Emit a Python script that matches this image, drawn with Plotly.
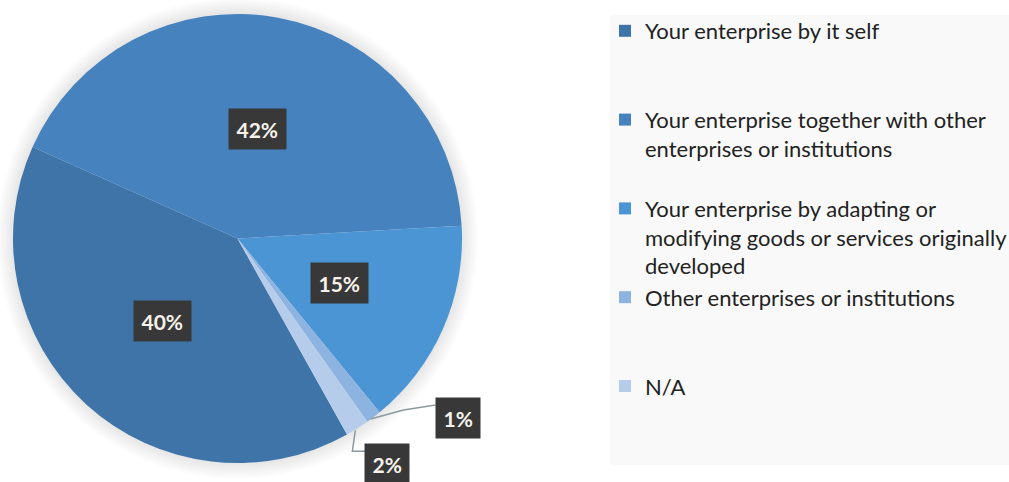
import math
import plotly.graph_objects as go

# ---- data ----
categories = [
    "Your enterprise by it self",
    "Your enterprise together with other enterprises or institutions",
    "Your enterprise by adapting or modifying goods or services originally developed",
    "Other enterprises or institutions",
    "N/A",
]
legend_labels = [
    "Your enterprise by it self<br> <br> ",
    "Your enterprise together with other<br>enterprises or institutions<br> ",
    "Your enterprise by adapting or<br>modifying goods or services originally<br>developed",
    "Other enterprises or institutions<br> <br> ",
    "N/A<br> <br> ",
]
values = [39.8, 42.4, 15.0, 1.1, 1.7]
colors = ["#3E74A8", "#4682BE", "#4C95D5", "#8DB3E0", "#B5CDEB"]

# ---- layout constants (pixels) ----
W, H = 1009, 482
CX, CY, R = 237.5, 238.5, 224.5
ROTATION = 150.8  # degrees clockwise from 12 o'clock


def px(x):
    return x / W


def py(y):
    return 1 - y / H


fig = go.Figure()
fig.add_trace(go.Pie(
    labels=legend_labels,
    values=values,
    sort=False,
    direction="clockwise",
    rotation=ROTATION,
    marker=dict(colors=colors, line=dict(width=0)),
    textinfo="none",
    hoverinfo="label+percent",
    domain=dict(x=[px(CX - R), px(CX + R)], y=[py(CY + R), py(CY - R)]),
))

shapes = []
# legend panel background
shapes.append(dict(type="rect", xref="paper", yref="paper", layer="below",
                   x0=px(610), x1=1.0, y0=py(465), y1=py(15),
                   fillcolor="#F9F9F9", line=dict(width=0)))
# soft shadow around pie
for k in range(16, 0, -2):
    shapes.append(dict(type="circle", xref="paper", yref="paper", layer="below",
                       x0=px(CX - R - k), x1=px(CX + R + k),
                       y0=py(CY + R + k), y1=py(CY - R - k),
                       fillcolor="rgba(0,0,0,0.011)", line=dict(width=0)))

# labels
total = sum(values)
cum = 0.0
annotations = []
label_font = dict(family="Lato", size=21, color="#F7F3EC")
outside = {3: (84, 1), 4: (30, 36)}
for i, v in enumerate(values):
    mid = ROTATION + (cum + v / 2) / total * 360
    cum += v
    a = math.radians(mid)
    txt = "<b>%d%%</b>" % round(v / total * 100)
    if i in outside:
        ex, ey = CX + R * math.sin(a), CY - R * math.cos(a)
        dx, dy = outside[i]
        lx, ly = ex + dx, ey + dy
        if i == 3:
            path = "M%f,%f L%f,%f L%f,%f" % (px(ex - 3), py(ey + 2), px(ex + 30), py(ey - 7),
                                             px(lx - 22), py(ly - 13))
        else:
            path = "M%f,%f L%f,%f L%f,%f" % (px(ex - 2), py(ey + 2), px(ex - 5), py(ly - 13),
                                             px(lx - 22), py(ly - 13))
        shapes.append(dict(type="path", xref="paper", yref="paper", path=path,
                           line=dict(color="#8C9AA0", width=1.5)))
    else:
        d = 0.495 * R
        lx, ly = CX + d * math.sin(a), CY - d * math.cos(a)
    annotations.append(dict(x=px(lx), y=py(ly), xref="paper", yref="paper",
                            text=txt, showarrow=False, font=label_font,
                            bgcolor="#383838", borderpad=7.5,
                            xanchor="center", yanchor="middle"))

fig.update_layout(
    width=W, height=H, autosize=False,
    margin=dict(l=0, r=0, t=0, b=0, autoexpand=False),
    paper_bgcolor="white",
    plot_bgcolor="white",
    shapes=shapes,
    annotations=annotations,
    showlegend=True,
    legend=dict(
        x=px(605), y=py(10), xanchor="left", yanchor="top",
        font=dict(family="Lato", size=22, color="#222222"),
        valign="top", bgcolor="rgba(0,0,0,0)", borderwidth=0,
        itemclick=False, itemdoubleclick=False,
    ),
)

fig.write_html(
    "out.html",
    config={"responsive": False, "displayModeBar": False},
    post_script="document.body.style.margin='0';document.body.style.overflow='hidden';",
)
